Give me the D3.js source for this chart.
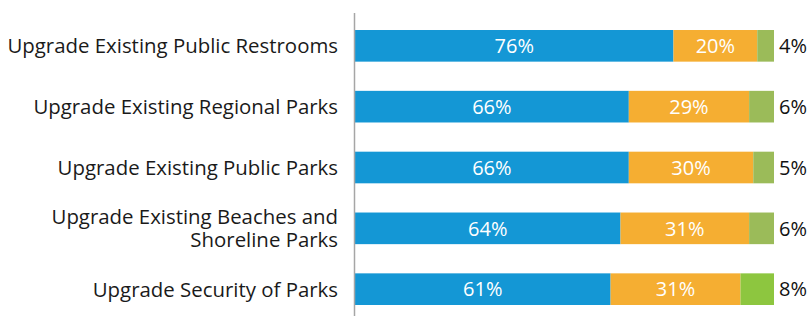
<!DOCTYPE html>
<html><head><meta charset="utf-8">
<script src="https://cdn.jsdelivr.net/npm/d3@7"></script>
<style>body{margin:0;background:#fff}svg{display:block}text{font-family:"Open Sans",sans-serif}</style>
</head><body><svg id="c" width="809" height="316"></svg>
<script>
const categories = [
  ["Upgrade Existing Public Restrooms"],
  ["Upgrade Existing Regional Parks"],
  ["Upgrade Existing Public Parks"],
  ["Upgrade Existing Beaches and", "Shoreline Parks"],
  ["Upgrade Security of Parks"]
];
const important = [76, 66, 66, 64, 61];
const somewhat = [20, 29, 30, 31, 31];
const notImportant = [4, 6, 5, 6, 8];
const seriesColors = ["#1497d5", "#f5ae32", "#9bbb59"];
const lastGreen = "#8dc63f";

const svg = d3.select("#c");
const x = d3.scaleLinear().domain([0, 1]).range([355, 774]);
const y = d3.scaleBand().domain(d3.range(categories.length)).range([14.5, 320.5]).paddingInner(0.48).paddingOuter(0.255);

categories.forEach((cat, i) => {
  const vals = [important[i], somewhat[i], notImportant[i]];
  const total = d3.sum(vals);
  let acc = 0;
  const y0 = y(i), h = y.bandwidth(), cy = y0 + h / 2;
  vals.forEach((v, j) => {
    const a = acc / total, b = (acc + v) / total;
    acc += v;
    let col = seriesColors[j];
    if (j === 2 && i === categories.length - 1) col = lastGreen;
    svg.append("rect").attr("x", x(a)).attr("y", y0).attr("width", x(b) - x(a)).attr("height", h).attr("fill", col);
    if (j < 2) {
      svg.append("text").attr("x", (x(a) + x(b)) / 2).attr("y", cy).attr("dy", "0.36em")
        .attr("text-anchor", "middle").attr("fill", "#fff").attr("font-size", 20).text(v + "%");
    } else {
      svg.append("text").attr("x", x(1) + 5).attr("y", cy).attr("dy", "0.36em")
        .attr("fill", "#111").attr("font-size", 20).text(v + "%");
    }
  });
  const n = cat.length;
  cat.forEach((line, k) => {
    svg.append("text").attr("text-anchor", "end").attr("fill", "#1a1a1a").attr("font-size", 20.4)
      .attr("x", 338).attr("y", cy + (k - (n - 1) / 2) * 23).attr("dy", "0.36em").text(line);
  });
});

svg.append("line").attr("x1", 354.5).attr("x2", 354.5).attr("y1", 13).attr("y2", 316)
  .attr("stroke", "#a6a6a6").attr("stroke-width", 1.5);
</script></body></html>
